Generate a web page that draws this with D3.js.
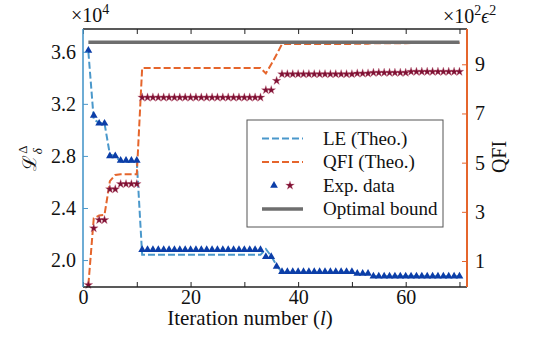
<!DOCTYPE html>
<html>
<head>
<meta charset="utf-8">
<script src="https://cdn.jsdelivr.net/npm/d3@7"></script>
<style>
  body { margin: 0; background: white; }
  text { font-family: "Liberation Serif", "Times New Roman", "DejaVu Serif", serif; fill: #111; }
</style>
</head>
<body>
<script>
// iteration index l
const iterations = d3.range(1, 71);

// LE, left axis, units of 1e4
const leTheo = [
  3.60, 3.08, 3.055, 3.05, 2.81, 2.80, 2.755, 2.755, 2.755, 2.755,
  2.04, 2.04, 2.04, 2.04, 2.04, 2.04, 2.04, 2.04, 2.04, 2.04,
  2.04, 2.04, 2.04, 2.04, 2.04, 2.04, 2.04, 2.04, 2.04, 2.04,
  2.04, 2.04, 2.04, 2.085, 2.03, 1.96, 1.905, 1.905, 1.905, 1.905,
  1.905, 1.905, 1.905, 1.905, 1.905, 1.905, 1.905, 1.905, 1.905, 1.905,
  1.895, 1.895, 1.895, 1.875, 1.875, 1.875, 1.875, 1.875, 1.875, 1.875,
  1.875, 1.875, 1.875, 1.875, 1.875, 1.875, 1.875, 1.875, 1.875, 1.875
];
const leExp = [
  3.61, 3.11, 3.05, 3.05, 2.80, 2.80, 2.765, 2.765, 2.765, 2.765,
  2.08, 2.08, 2.08, 2.08, 2.08, 2.08, 2.08, 2.08, 2.08, 2.08,
  2.08, 2.08, 2.08, 2.08, 2.08, 2.08, 2.08, 2.08, 2.08, 2.08,
  2.08, 2.08, 2.08, 2.025, 2.025, 1.95, 1.91, 1.91, 1.91, 1.91,
  1.91, 1.91, 1.91, 1.91, 1.91, 1.91, 1.91, 1.91, 1.91, 1.91,
  1.897, 1.897, 1.897, 1.875, 1.875, 1.875, 1.875, 1.875, 1.875, 1.875,
  1.875, 1.875, 1.875, 1.875, 1.875, 1.875, 1.875, 1.875, 1.875, 1.875
];

// QFI, right axis, units of 1e2 eps^2
const qfiTheo = [
  0.03, 2.74, 2.85, 2.88, 4.25, 4.50, 4.53, 4.53, 4.53, 4.53,
  8.85, 8.85, 8.85, 8.85, 8.85, 8.85, 8.85, 8.85, 8.85, 8.85,
  8.85, 8.85, 8.85, 8.85, 8.85, 8.85, 8.85, 8.85, 8.85, 8.85,
  8.85, 8.85, 8.85, 8.63, 9.00, 9.40, 9.82, 9.83, 9.83, 9.83,
  9.83, 9.83, 9.83, 9.83, 9.83, 9.83, 9.83, 9.83, 9.83, 9.83,
  9.84, 9.84, 9.84, 9.86, 9.86, 9.86, 9.86, 9.86, 9.86, 9.86,
  9.87, 9.87, 9.87, 9.87, 9.87, 9.87, 9.87, 9.87, 9.87, 9.87
];
const qfiExp = [
  0.03, 2.33, 2.67, 2.67, 3.92, 3.92, 4.13, 4.13, 4.13, 4.13,
  7.65, 7.65, 7.65, 7.65, 7.65, 7.65, 7.65, 7.65, 7.65, 7.65,
  7.65, 7.65, 7.65, 7.65, 7.65, 7.65, 7.65, 7.65, 7.65, 7.65,
  7.65, 7.65, 7.65, 7.95, 7.95, 8.33, 8.60, 8.60, 8.60, 8.60,
  8.60, 8.60, 8.60, 8.60, 8.60, 8.60, 8.60, 8.60, 8.60, 8.60,
  8.63, 8.63, 8.63, 8.66, 8.66, 8.66, 8.66, 8.66, 8.66, 8.66,
  8.70, 8.70, 8.70, 8.70, 8.70, 8.70, 8.70, 8.70, 8.70, 8.70
];
const optimalBound = 9.9;

const xTicks = [0, 10, 20, 30, 40, 50, 60, 70];
const xLabelled = [0, 20, 40, 60];
const leftTicks = [2.0, 2.4, 2.8, 3.2, 3.6];
const rightTicks = [1, 3, 5, 7, 9];

const legendItems = ['LE (Theo.)', 'QFI (Theo.)', 'Exp. data', 'Optimal bound'];

// colours
const cLE = '#4a98cb';
const cQFI = '#e5652c';
const cTri = '#0c3ea8';
const cStar = '#7e1033';
const cBound = '#6e6e6e';

const width = 533;
const height = 339;
const margin = { top: 29, right: 66, bottom: 52, left: 83 };

const x = d3.scaleLinear().domain([0, 71.4]).range([margin.left, width - margin.right]);
const yL = d3.scaleLinear().domain([1.793, 3.775]).range([height - margin.bottom, margin.top]);
const yR = d3.scaleLinear().domain([-0.057, 10.435]).range([height - margin.bottom, margin.top]);

const svg = d3.select('body').append('svg')
  .attr('width', width)
  .attr('height', height);

svg.append('rect').attr('width', width).attr('height', height).attr('fill', 'white');

const le = iterations.map((l, i) => ({ l, theo: leTheo[i], exp: leExp[i] }));
const qfi = iterations.map((l, i) => ({ l, theo: qfiTheo[i], exp: qfiExp[i] }));

// theory lines
svg.append('path')
  .datum(le)
  .attr('fill', 'none')
  .attr('stroke', cLE)
  .attr('stroke-width', 2)
  .attr('stroke-dasharray', '7,3')
  .attr('d', d3.line().x(d => x(d.l)).y(d => yL(d.theo)));

svg.append('path')
  .datum(qfi)
  .attr('fill', 'none')
  .attr('stroke', cQFI)
  .attr('stroke-width', 2)
  .attr('stroke-dasharray', '7,3')
  .attr('d', d3.line().x(d => x(d.l)).y(d => yR(d.theo)));

// optimal bound
svg.append('line')
  .attr('x1', x(d3.min(iterations)))
  .attr('x2', x(d3.max(iterations)))
  .attr('y1', yR(optimalBound))
  .attr('y2', yR(optimalBound))
  .attr('stroke', cBound)
  .attr('stroke-width', 3.5);

// experimental points
const tri = d3.symbol().type(d3.symbolTriangle).size(26);
const star = d3.symbol().type(d3.symbolStar).size(24);

svg.selectAll('path.tri')
  .data(le)
  .enter()
  .append('path')
  .attr('class', 'tri')
  .attr('transform', d => `translate(${x(d.l)},${yL(d.exp)})`)
  .attr('d', tri)
  .attr('fill', cTri);

svg.selectAll('path.star')
  .data(qfi)
  .enter()
  .append('path')
  .attr('class', 'star')
  .attr('transform', d => `translate(${x(d.l)},${yR(d.exp)})`)
  .attr('d', star)
  .attr('fill', cStar)
  .attr('stroke', '#c8758c')
  .attr('stroke-width', 0.8)
  .attr('stroke-opacity', 0.4);

// axes (ticks point inward)
const gBottom = svg.append('g')
  .attr('transform', `translate(0,${height - margin.bottom})`)
  .call(d3.axisBottom(x).tickValues(xTicks).tickSize(-5).tickPadding(3)
    .tickFormat(d => xLabelled.includes(d) ? d : ''));
const gTop = svg.append('g')
  .attr('transform', `translate(0,${margin.top})`)
  .call(d3.axisTop(x).tickValues(xTicks).tickSize(-5).tickFormat(''));
const gLeft = svg.append('g')
  .attr('transform', `translate(${margin.left},0)`)
  .call(d3.axisLeft(yL).tickValues(leftTicks).tickSize(-5).tickPadding(7)
    .tickFormat(d3.format('.1f')));
const gRight = svg.append('g')
  .attr('transform', `translate(${width - margin.right},0)`)
  .call(d3.axisRight(yR).tickValues(rightTicks).tickSize(-5).tickPadding(8));

[gBottom, gTop, gLeft, gRight].forEach(g => {
  g.selectAll('.domain').attr('stroke-width', 1.6);
  g.selectAll('text').attr('font-size', 20).attr('fill', '#111')
    .attr('font-family', '"Liberation Serif", serif');
});
gBottom.selectAll('.domain, line').attr('stroke', '#222');
gTop.selectAll('.domain, line').attr('stroke', '#222');
gLeft.selectAll('.domain, line').attr('stroke', cLE);
gRight.selectAll('.domain, line').attr('stroke', cQFI);
gLeft.select('.domain').attr('d', `M0,${height - margin.bottom}V${margin.top}`);
gRight.select('.domain').attr('d', `M0,${height - margin.bottom}V${margin.top}`).attr('stroke-width', 2);
gBottom.select('.domain').attr('d', `M${margin.left},0H${width - margin.right}`);
gTop.select('.domain').attr('d', `M${margin.left},0H${width - margin.right}`);

// multipliers
const mulL = svg.append('text').attr('x', 71).attr('y', 22).attr('font-size', 20);
mulL.append('tspan').text('×10');
mulL.append('tspan').attr('font-size', 14).attr('dy', -8).text('4');

const mulR = svg.append('text').attr('x', 443).attr('y', 23).attr('font-size', 20);
mulR.append('tspan').text('×10');
mulR.append('tspan').attr('font-size', 14).attr('dy', -8).text('2');
mulR.append('tspan').attr('dy', 8).attr('font-style', 'italic').text('ϵ');
mulR.append('tspan').attr('font-size', 14).attr('dy', -8).text('2');

// axis labels
svg.append('text')
  .attr('x', 250).attr('y', 325)
  .attr('text-anchor', 'middle')
  .attr('font-size', 21)
  .html('Iteration number (<tspan font-style="italic">l</tspan>)');

const yLab = svg.append('text')
  .attr('transform', 'translate(36,158) rotate(-90)')
  .attr('text-anchor', 'middle')
  .attr('font-size', 22);
yLab.append('tspan').attr('font-family', '"DejaVu Serif", serif').attr('font-size', 19).text('ℒ');
yLab.append('tspan').attr('font-size', 13).attr('dy', -9).attr('dx', 1).text('Δ');
yLab.append('tspan').attr('font-size', 13).attr('font-style', 'italic').attr('dy', 15).attr('dx', -9).text('δ');

svg.append('text')
  .attr('transform', 'translate(506,157) rotate(-90)')
  .attr('text-anchor', 'middle')
  .attr('font-size', 20)
  .text('QFI');

// legend
const lg = svg.append('g').attr('transform', 'translate(247,120)');
lg.append('rect')
  .attr('width', 196).attr('height', 107)
  .attr('fill', 'white')
  .attr('stroke', '#555')
  .attr('stroke-width', 1);
const rowY = d3.scalePoint().domain(legendItems).range([18.5, 89]);
legendItems.forEach(name => {
  const yy = rowY(name);
  if (name === 'LE (Theo.)' || name === 'QFI (Theo.)') {
    lg.append('line')
      .attr('x1', 15).attr('x2', 56).attr('y1', yy).attr('y2', yy)
      .attr('stroke', name === 'LE (Theo.)' ? cLE : cQFI)
      .attr('stroke-width', 2).attr('stroke-dasharray', '7,3');
  } else if (name === 'Exp. data') {
    lg.append('path').attr('transform', `translate(27,${yy})`).attr('d', tri).attr('fill', cTri);
    lg.append('path').attr('transform', `translate(43,${yy})`).attr('d', star)
      .attr('fill', cStar).attr('stroke', '#c8758c').attr('stroke-width', 0.8).attr('stroke-opacity', 0.4);
  } else {
    lg.append('line')
      .attr('x1', 15).attr('x2', 56).attr('y1', yy).attr('y2', yy)
      .attr('stroke', cBound).attr('stroke-width', 3.5);
  }
  lg.append('text')
    .attr('x', 76).attr('y', yy).attr('dy', '0.34em')
    .attr('font-size', 19)
    .text(name);
});
</script>
</body>
</html>
